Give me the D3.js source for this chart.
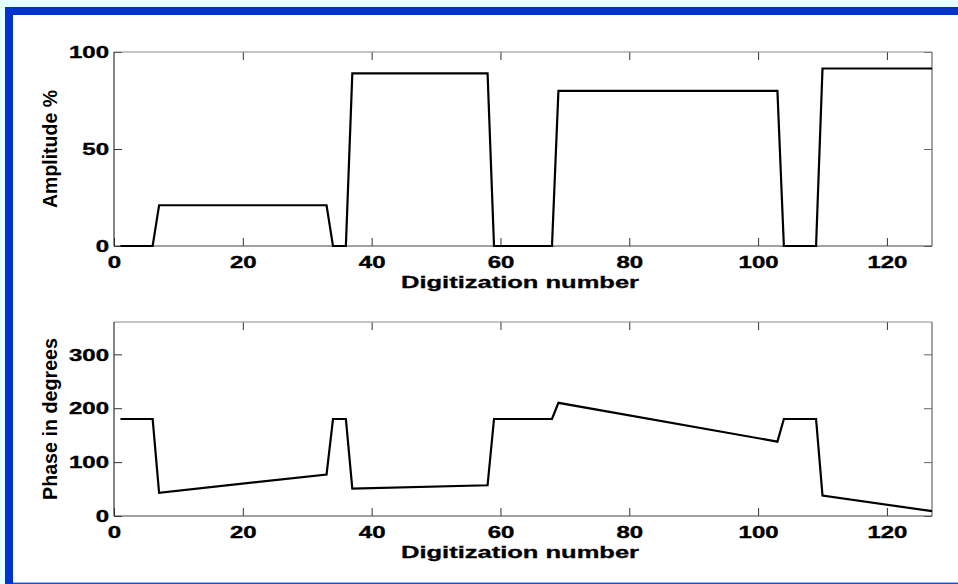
<!DOCTYPE html>
<html>
<head>
<meta charset="utf-8">
<script src="https://cdn.jsdelivr.net/npm/d3@7"></script>
<style>
  html, body { margin: 0; padding: 0; background: #ffffff; overflow: hidden; width: 958px; height: 584px; }
  svg { display: block; }
</style>
</head>
<body>
<svg id="chart" width="958" height="584"></svg>
<script>
// Digitization numbers at the corners of each trace
const ampX = [1, 6, 7, 33, 34, 36, 37, 58, 59, 68, 69, 103, 104, 109, 110, 127];
// Amplitude in percent
const ampY = [0, 0, 21, 21, 0, 0, 89, 89, 0, 0, 80, 80, 0, 0, 91.5, 91.5];

const phaseX = [1, 6, 7, 33, 34, 36, 37, 58, 59, 68, 69, 103, 104, 109, 110, 127];
// Phase in degrees
const phaseY = [180, 180, 43, 77, 180, 180, 51, 57, 180, 180, 210, 138, 180, 180, 38, 9];

const xTicks = [0, 20, 40, 60, 80, 100, 120];
const ampTicks = [0, 50, 100];
const phaseTicks = [0, 100, 200, 300];
const xLabel = "Digitization number";
const ampLabel = "Amplitude %";
const phaseLabel = "Phase in degrees";

const svg = d3.select("#chart");
const W = 958, H = 584;

// page frame: white panel, pale cyan margin, blue bars on top, left and bottom
svg.append("rect").attr("x", 0).attr("y", 0).attr("width", W).attr("height", H).attr("fill", "#ffffff");
svg.append("rect").attr("x", 0).attr("y", 0).attr("width", W).attr("height", 7).attr("fill", "#e4ffff");
svg.append("rect").attr("x", 0).attr("y", 0).attr("width", 5).attr("height", H).attr("fill", "#e4ffff");
svg.append("rect").attr("x", 5).attr("y", 7).attr("width", W - 5).attr("height", 8).attr("fill", "#0033cc");
svg.append("rect").attr("x", 5).attr("y", 7).attr("width", 8).attr("height", H - 7).attr("fill", "#0033cc");
svg.append("rect").attr("x", 13).attr("y", 582).attr("width", W - 13).attr("height", 1).attr("fill", "#9fb4ea");
svg.append("rect").attr("x", 13).attr("y", 583).attr("width", W - 13).attr("height", 1).attr("fill", "#1f4fd0");

const FONT = "'Liberation Sans', Arial, Helvetica, sans-serif";
const STRETCH = 1.5;

function panel(opts) {
  const { top, bottom, left, right, xs, ys, yDomain, yTicks, yLabel, labelLen } = opts;
  const x = d3.scaleLinear().domain([0, 127]).range([left, right]);
  const y = d3.scaleLinear().domain(yDomain).range([bottom, top]);
  const g = svg.append("g");

  const styleAxis = (sel, dark) => {
    sel.select(".domain").remove();
    sel.selectAll(".tick line").attr("stroke", dark ? "#333" : "#666").attr("stroke-width", 1);
  };

  // inward ticks on all four sides
  const bx = g.append("g").attr("transform", `translate(0,${bottom})`)
    .call(d3.axisBottom(x).tickValues(xTicks).tickSize(-8).tickFormat(d3.format("d")));
  styleAxis(bx, true);
  bx.selectAll(".tick text")
    .attr("y", 0).attr("dy", 0)
    .attr("transform", `translate(0,21.5) scale(${STRETCH},1)`)
    .attr("fill", "#000").attr("stroke", "#000").attr("stroke-width", 0.35)
    .attr("font-family", FONT).attr("font-weight", "bold").attr("font-size", 16);

  const tx = g.append("g").attr("transform", `translate(0,${top})`)
    .call(d3.axisTop(x).tickValues(xTicks).tickSize(-8).tickFormat(""));
  styleAxis(tx, true);
  tx.selectAll(".tick").filter(d => d === 0).remove();

  const ly = g.append("g").attr("transform", `translate(${left},0)`)
    .call(d3.axisLeft(y).tickValues(yTicks).tickSize(-8).tickFormat(d3.format("d")));
  styleAxis(ly, true);
  ly.selectAll(".tick text")
    .attr("x", 0).attr("dy", "0.36em")
    .attr("transform", `translate(-5,0) scale(${STRETCH},1)`)
    .attr("text-anchor", "end")
    .attr("fill", "#000").attr("stroke", "#000").attr("stroke-width", 0.35)
    .attr("font-family", FONT).attr("font-weight", "bold").attr("font-size", 16);

  const ry = g.append("g").attr("transform", `translate(${right},0)`)
    .call(d3.axisRight(y).tickValues(yTicks).tickSize(-8).tickFormat(""));
  styleAxis(ry, false);

  // axes box
  g.append("line").attr("x1", left).attr("x2", right).attr("y1", top).attr("y2", top)
    .attr("stroke", "#8a8a8a").attr("stroke-width", 1.2);
  g.append("line").attr("x1", right).attr("x2", right).attr("y1", top).attr("y2", bottom)
    .attr("stroke", "#666").attr("stroke-width", 1.2);
  g.append("line").attr("x1", left).attr("x2", left).attr("y1", top).attr("y2", bottom)
    .attr("stroke", "#333").attr("stroke-width", 1.2);
  g.append("line").attr("x1", left).attr("x2", right).attr("y1", bottom).attr("y2", bottom)
    .attr("stroke", "#444").attr("stroke-width", 1.2);

  // trace
  const pts = xs.map((v, i) => [v, ys[i]]);
  g.append("path")
    .attr("d", d3.line().x(d => x(d[0])).y(d => y(d[1]))(pts))
    .attr("fill", "none").attr("stroke", "#000").attr("stroke-width", 2.2)
    .attr("stroke-linejoin", "miter");

  // labels
  g.append("text")
    .attr("x", 520).attr("y", bottom + 42)
    .attr("text-anchor", "middle")
    .attr("fill", "#000").attr("stroke", "#000").attr("stroke-width", 0.3)
    .attr("font-family", FONT).attr("font-weight", "bold").attr("font-size", 16.5)
    .attr("textLength", 238).attr("lengthAdjust", "spacingAndGlyphs")
    .text(xLabel);

  g.append("text")
    .attr("transform", `translate(56.5,${opts.labelMid}) rotate(-90)`)
    .attr("text-anchor", "middle")
    .attr("fill", "#000")
    .attr("font-family", FONT).attr("font-weight", "bold").attr("font-size", 20.5)
    .attr("textLength", labelLen).attr("lengthAdjust", "spacingAndGlyphs")
    .text(yLabel);
}

panel({ top: 52, bottom: 246, left: 114, right: 932, xs: ampX, ys: ampY,
        yDomain: [0, 100], yTicks: ampTicks, yLabel: ampLabel, labelLen: 118, labelMid: 149 });
panel({ top: 322, bottom: 516, left: 114, right: 932, xs: phaseX, ys: phaseY,
        yDomain: [0, 360], yTicks: phaseTicks, yLabel: phaseLabel, labelLen: 162, labelMid: 419 });

// keep the right margin of the panel plain white
svg.append("rect").attr("x", 936).attr("y", 15).attr("width", W - 936).attr("height", 567).attr("fill", "#ffffff");
</script>
</body>
</html>
